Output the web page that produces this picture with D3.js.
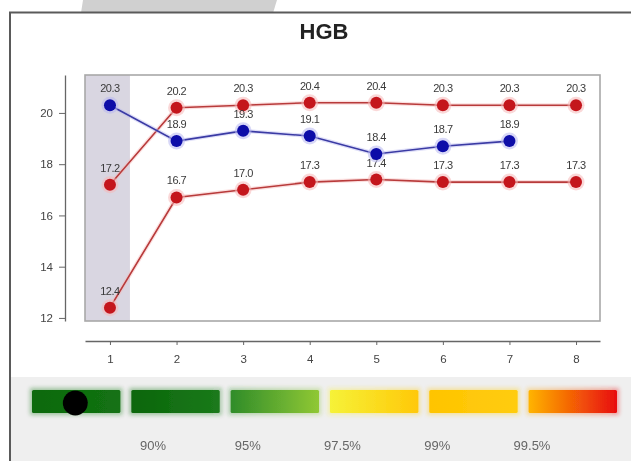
<!DOCTYPE html>
<html><head><meta charset="utf-8">
<script src="https://cdn.jsdelivr.net/npm/d3@7"></script>
<style>html,body{margin:0;padding:0;background:#fff;}svg{display:block;font-family:"Liberation Sans",Arial,sans-serif;}</style>
</head><body>
<svg id="c" width="631" height="461"></svg>
<script>
const title = "HGB";
const visits = [1, 2, 3, 4, 5, 6, 7, 8];
const upperRef = [17.2, 20.2, 20.3, 20.4, 20.4, 20.3, 20.3, 20.3];
const lowerRef = [12.4, 16.7, 17.0, 17.3, 17.4, 17.3, 17.3, 17.3];
const patient = [20.3, 18.9, 19.3, 19.1, 18.4, 18.7, 18.9];
const yTicks = [12, 14, 16, 18, 20];
const highlightVisit = 1;
const legendLabels = ["90%", "95%", "97.5%", "99%", "99.5%"];
const legendBlocks = ["b0", "b1", "b2", "b3", "b4", "b5"];
const legendColors = [["#0c6a0c", "#137213"], ["#0a660a", "#1b7a1b"], ["#2f8c2a", "#90c834"],
                      ["#f6f238", "#ffc808"], ["#ffc400", "#ffcc10"], ["#ffb400", "#e80c0c"]];
const currentBlock = "b0";

const svg = d3.select("#c");
const defs = svg.append("defs");
defs.append("filter").attr("id", "soft").append("feGaussianBlur").attr("stdDeviation", 0.45);
defs.append("filter").attr("id", "glow").attr("x", "-20%").attr("y", "-40%").attr("width", "140%").attr("height", "180%")
  .append("feGaussianBlur").attr("stdDeviation", 2);

// decorative top tab
svg.append("path").attr("d", "M83,0 L277,0 L273,13 L81,13 Z").attr("fill", "#d0d0d0");
// legend background
svg.append("rect").attr("x", 11).attr("y", 377).attr("width", 625).attr("height", 90).attr("fill", "#efefef");
// outer frame
svg.append("path").attr("d", "M10,470 L10,12.5 L640,12.5").attr("fill", "none").attr("stroke", "#5a5a5a").attr("stroke-width", 2);

const g = svg.append("g").attr("filter", "url(#soft)");

g.append("text").attr("x", 324).attr("y", 39).attr("text-anchor", "middle")
  .attr("font-size", 22).attr("font-weight", "bold").attr("fill", "#222").text(title);

const x = d3.scaleLinear().domain([visits[0] - 0.375, visits[visits.length - 1] + 0.36]).range([85, 600]);
const y = d3.scaleLinear().domain([11.88, 21.48]).range([321, 75]);

// highlight band
const step = x(2) - x(1);
g.append("rect").attr("x", x.range()[0]).attr("y", y.range()[1])
  .attr("width", x(highlightVisit) + step * 0.3 - x.range()[0]).attr("height", y.range()[0] - y.range()[1])
  .attr("fill", "#d9d6e1");

// plot frame
g.append("rect").attr("x", x.range()[0]).attr("y", y.range()[1])
  .attr("width", x.range()[1] - x.range()[0]).attr("height", y.range()[0] - y.range()[1])
  .attr("fill", "none").attr("stroke", "#a8a8a8").attr("stroke-width", 1.6);

// axes
const yAx = g.append("g").attr("transform", "translate(65,0)")
  .call(d3.axisLeft(y).tickValues(yTicks).tickSize(6).tickSizeOuter(0).tickPadding(6));
const xAx = g.append("g").attr("transform", "translate(0,341)")
  .call(d3.axisBottom(x).tickValues(visits).tickSize(4).tickSizeOuter(0).tickPadding(10).tickFormat(d3.format("d")));
[yAx, xAx].forEach(a => {
  a.select(".domain").attr("stroke", "#666").attr("stroke-width", 1.3);
  a.selectAll(".tick line").attr("stroke", "#666");
  a.selectAll("text").attr("font-size", 11.5).attr("fill", "#444").attr("font-family", "Liberation Sans, Arial");
});

function series(vals, lineColor, dotColor, haloColor) {
  const pts = vals.map((v, i) => ({ x: visits[i], v }));
  const line = d3.line().x(d => x(d.x)).y(d => y(d.v));
  g.append("path").datum(pts).attr("d", line).attr("fill", "none").attr("stroke", haloColor).attr("stroke-width", 4).attr("opacity", 0.45);
  g.append("path").datum(pts).attr("d", line).attr("fill", "none").attr("stroke", lineColor).attr("stroke-width", 1.6);
  g.selectAll(null).data(pts).enter().append("circle")
    .attr("cx", d => x(d.x)).attr("cy", d => y(d.v)).attr("r", 8.5).attr("fill", haloColor).attr("opacity", 0.55);
  g.selectAll(null).data(pts).enter().append("circle")
    .attr("cx", d => x(d.x)).attr("cy", d => y(d.v)).attr("r", 6).attr("fill", dotColor);
  g.selectAll(null).data(pts).enter().append("text")
    .attr("x", d => x(d.x)).attr("y", d => y(d.v) - 13).attr("text-anchor", "middle")
    .attr("font-size", 11).attr("fill", "#3a3a3a").attr("letter-spacing", "-0.5")
    .text(d => d.v.toFixed(1));
}
series(upperRef, "#b83a3a", "#c4161f", "#f6b8b8");
series(lowerRef, "#b83a3a", "#c4161f", "#f6b8b8");
series(patient, "#3a3aa4", "#0b0ba8", "#b8b8f0");

// legend
const lb = d3.scaleBand().domain(legendBlocks).range([32, 617]).paddingInner(0.11);
legendBlocks.forEach((b, i) => {
  const gr = defs.append("linearGradient").attr("id", "lg" + i);
  gr.append("stop").attr("offset", "0%").attr("stop-color", legendColors[i][0]);
  gr.append("stop").attr("offset", "100%").attr("stop-color", legendColors[i][1]);
});
g.selectAll(null).data(legendBlocks).enter().append("rect")
  .attr("x", d => lb(d) - 2).attr("y", 388).attr("width", lb.bandwidth() + 4).attr("height", 27)
  .attr("fill", (d, i) => `url(#lg${i})`).attr("opacity", 0.35).attr("filter", "url(#glow)");
g.selectAll(null).data(legendBlocks).enter().append("rect")
  .attr("x", d => lb(d)).attr("y", 390).attr("width", lb.bandwidth()).attr("height", 23).attr("rx", 1.5)
  .attr("fill", (d, i) => `url(#lg${i})`);
g.append("circle").attr("cx", lb(currentBlock) + lb.bandwidth() * 0.49).attr("cy", 403).attr("r", 12.5).attr("fill", "#050505");

const ll = d3.scalePoint().domain(legendLabels).range([153, 532]);
g.selectAll(null).data(legendLabels).enter().append("text")
  .attr("x", d => ll(d)).attr("y", 450).attr("text-anchor", "middle")
  .attr("font-size", 13).attr("fill", "#666").text(d => d);
</script>
</body></html>
